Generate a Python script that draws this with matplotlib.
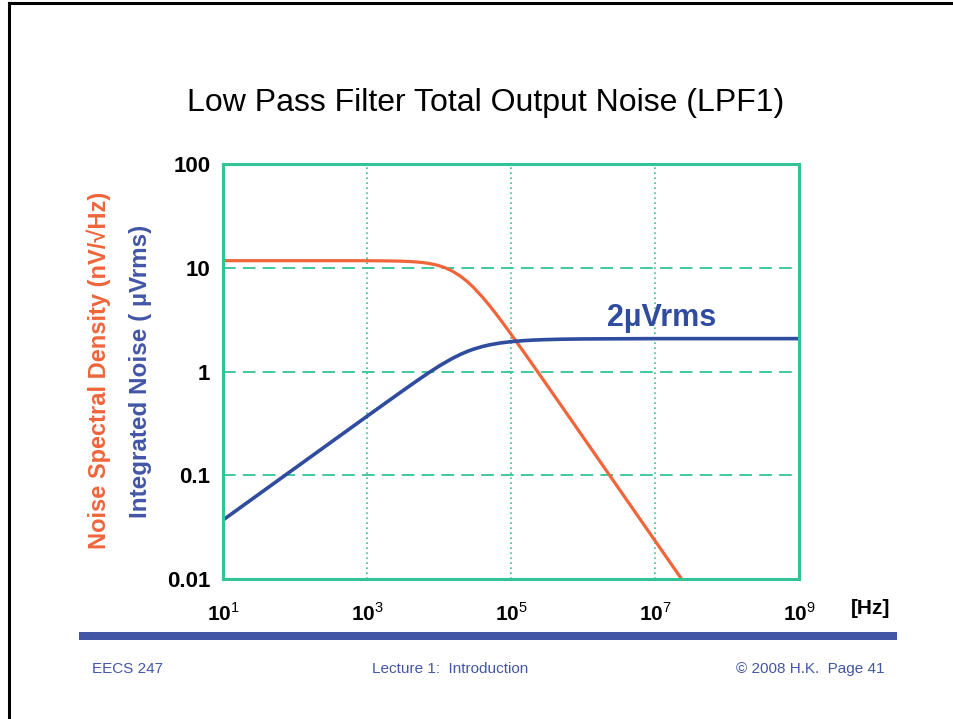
import matplotlib
matplotlib.use('Agg')
import matplotlib.pyplot as plt
from matplotlib.lines import Line2D
from matplotlib.patches import Rectangle

plt.rcParams['font.family'] = ['Liberation Sans', 'DejaVu Sans']
plt.rcParams['mathtext.fontset'] = 'custom'
plt.rcParams['mathtext.rm'] = 'Liberation Sans'
plt.rcParams['mathtext.bf'] = 'Liberation Sans:bold'

# values
# noise spectral density of the filter output (nV/sqrt(Hz))
psd_freq = [10, 100, 1e3, 2e3, 3e3, 4e3, 5e3, 6e3, 7e3, 8.5e3, 1e4, 1.2e4,
            1.5e4, 2e4, 2.5e4, 3e4, 4e4, 5e4, 6e4, 7e4, 8.5e4, 1e5, 1.5e5,
            2e5, 3e5, 5e5, 1e6, 3e6, 1e7, 2.34e7]
psd_vals = [11.7, 11.7, 11.69, 11.64, 11.57, 11.47, 11.35, 11.21, 11.04,
            10.77, 10.47, 10.03, 9.36, 8.27, 7.31, 6.49, 5.23, 4.34, 3.70,
            3.21, 2.68, 2.29, 1.546, 1.164, 0.778, 0.468, 0.234, 0.078,
            0.0234, 0.0100]

# integrated output noise (uVrms)
int_freq = [10, 30, 100, 300, 1e3, 2e3, 3e3, 5e3, 7e3, 1e4, 1.5e4, 2e4,
            2.5e4, 3e4, 4e4, 5e4, 7e4, 1e5, 1.5e5, 2e5, 3e5, 5e5, 1e6, 1e7,
            1e9]
int_vals = [0.037, 0.0641, 0.117, 0.2027, 0.370, 0.522, 0.638, 0.819, 0.960,
            1.127, 1.327, 1.466, 1.566, 1.640, 1.741, 1.805, 1.881, 1.939,
            1.984, 2.007, 2.029, 2.047, 2.060, 2.074, 2.074]

x_ticks = [1e1, 1e3, 1e5, 1e7, 1e9]
x_labels = [r'$\mathbf{10}^{\mathrm{%d}}$' % e for e in [1, 3, 5, 7, 9]]
y_ticks = [0.01, 0.1, 1, 10, 100]
y_labels = ['0.01', '0.1', '1', '10', '100']

green = '#30c497'
orange = '#f0653a'
blue = '#2f4c9e'
slide_blue = '#4356a6'

fig = plt.figure(figsize=(9.54, 7.19), dpi=100)
fig.set_facecolor('white')

# slide frame (left and top edge)
fig.add_artist(Line2D([9/954, 9/954], [0, 1 - 3/719], color='black', lw=2.2))
fig.add_artist(Line2D([9/954, 1], [1 - 3/719, 1 - 3/719], color='black', lw=2.2))

fig.text(486/954, 1 - 103/719, 'Low Pass Filter Total Output Noise (LPF1)',
         ha='center', va='center', fontsize=23, color='black')

ax = fig.add_axes([223/954, 1 - 579/719, 576/954, 415/719])
ax.set_xscale('log')
ax.set_yscale('log')
ax.set_xlim(1e1, 1e9)
ax.set_ylim(0.01, 100)

ax.plot(psd_freq, psd_vals, color=orange, lw=2.3, solid_capstyle='butt', zorder=3)
ax.plot(int_freq, int_vals, color=blue, lw=2.6, zorder=4)

ax.set_xticks(x_ticks)
ax.set_xticklabels(x_labels, fontsize=15)
ax.set_yticks(y_ticks)
ax.set_yticklabels(y_labels, fontsize=16, fontweight='bold')
ax.minorticks_off()
ax.tick_params(axis='both', length=0)
ax.tick_params(axis='x', pad=17)
ax.tick_params(axis='y', pad=9)

ax.xaxis.grid(True, color=green, linestyle=(0, (1, 2)), lw=1.2)
ax.yaxis.grid(True, color=green, linestyle=(0, (7, 4)), lw=1.3)
ax.set_axisbelow(True)
for sp in ax.spines.values():
    sp.set_color(green)
    sp.set_linewidth(2.2)
    sp.set_zorder(5)

ax.text(1.25e7, 2.77, '2\u00b5Vrms', ha='center', va='baseline',
        fontsize=22, fontweight='bold', color=blue)

fig.text(99/954, 1 - 370/719, 'Noise Spectral Density (nV/\u221aHz)',
         rotation=90, ha='center', va='center', fontsize=17,
         fontweight='bold', color=orange)
fig.text(141/954, 1 - 371/719, 'Integrated Noise ( \u00b5Vrms)',
         rotation=90, ha='center', va='center', fontsize=17.5,
         fontweight='bold', color=slide_blue)

fig.text(871/954, 1 - 608/719, '[Hz]', ha='center', va='center',
         fontsize=15, fontweight='bold', color='black')

# footer
fig.add_artist(Rectangle((79/954, 1 - 640/719), (897 - 79)/954, 8/719,
                         transform=fig.transFigure, color=slide_blue, lw=0))
fig.text(92/954, 1 - 669/719, 'EECS 247', ha='left', va='center',
         fontsize=11, color=slide_blue)
fig.text(450/954, 1 - 669/719, 'Lecture 1:  Introduction', ha='center',
         va='center', fontsize=11, color=slide_blue)
fig.text(884/954, 1 - 669/719, '\u00a9 2008 H.K.  Page 41', ha='right',
         va='center', fontsize=11, color=slide_blue)

plt.savefig('out.png', dpi=100)
